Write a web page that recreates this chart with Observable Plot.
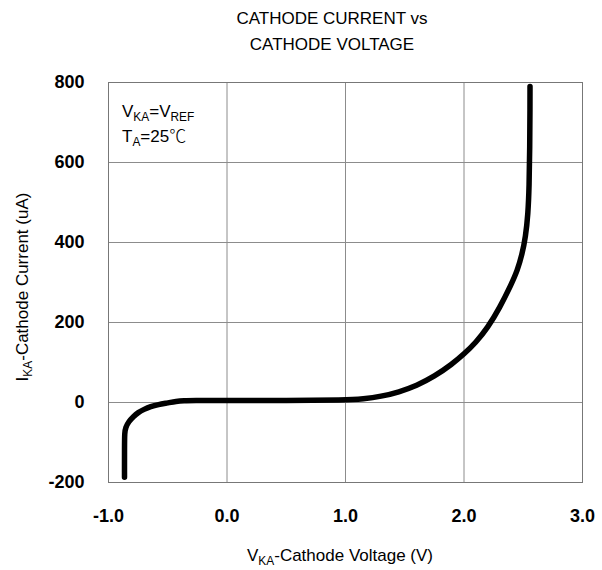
<!DOCTYPE html>
<html>
<head>
<meta charset="utf-8">
<script src="https://cdn.jsdelivr.net/npm/d3@7"></script>
<script src="https://cdn.jsdelivr.net/npm/@observablehq/plot@0.6"></script>
<style>
  html, body { margin: 0; padding: 0; background: #fff; }
  #chart svg { display: block; }
</style>
</head>
<body>
<div id="chart"></div>
<script>
// Cathode voltage (V) and cathode current (uA)
const voltage = [-0.865, -0.865, -0.864, -0.855, -0.83, -0.79, -0.75, -0.70, -0.645, -0.58, -0.5, -0.43, -0.36, -0.3, 0.0, 0.5, 1.0, 1.15, 1.3, 1.45, 1.6, 1.75, 1.9, 2.0, 2.1, 2.2, 2.3, 2.4, 2.45, 2.49, 2.52, 2.54, 2.55, 2.555, 2.557, 2.557];
const current = [-187, -110, -75, -62, -48, -35, -25, -17, -10, -5, -1, 3, 4.5, 5, 5, 5, 6, 9, 15, 26, 42, 65, 96, 121, 150, 187, 236, 296, 330, 370, 415, 470, 540, 640, 740, 790];
const xTicks = [-1, 0, 1, 2, 3];
const yTicks = [-200, 0, 200, 400, 600, 800];

const data = voltage.map((v, i) => ({v, i: current[i]}));

const font = "'Liberation Sans', Arial, sans-serif";

const chart = Plot.plot({
  width: 602,
  height: 570,
  marginLeft: 108,
  marginRight: 20,
  marginTop: 82,
  marginBottom: 88,
  style: {fontFamily: font, background: "#fff", color: "#000"},
  x: {domain: [-1, 3]},
  y: {domain: [-200, 800]},
  marks: [
    Plot.gridX(xTicks, {stroke: "#8c8c8c", strokeOpacity: 1}),
    Plot.gridY(yTicks, {stroke: "#8c8c8c", strokeOpacity: 1}),
    Plot.frame({stroke: "#777"}),
    Plot.axisX({ticks: xTicks, tickFormat: d => d3.format(".1f")(d).replace("−", "-"), tickSize: 0, tickPadding: 27, fontSize: 18, fontWeight: "bold", label: null}),
    Plot.axisY({ticks: yTicks, tickFormat: d => d3.format("d")(d).replace("−", "-"), tickSize: 0, tickPadding: 24, fontSize: 18, fontWeight: "bold", label: null}),
    Plot.line(data, {x: "v", y: "i", stroke: "#000", strokeWidth: 5.5, curve: "basis"})
  ]
});

document.getElementById("chart").appendChild(chart);

// Titles and annotation with subscripts
const svg = d3.select(chart);
function rich(x, y, parts, opts = {}) {
  const size = opts.size || 17;
  const t = svg.append("text")
    .attr("x", x).attr("y", y)
    .attr("font-family", font)
    .attr("font-size", size)
    .attr("fill", "#000")
    .attr("text-anchor", opts.anchor || "middle");
  if (opts.rotate) t.attr("transform", `rotate(-90 ${x} ${y})`);
  let shifted = false;
  parts.forEach(p => {
    if (typeof p === "string") {
      t.append("tspan").attr("dy", shifted ? -0.22 * size : 0).text(p);
      shifted = false;
    } else if (p.sub) {
      t.append("tspan").attr("font-size", size * 0.7).attr("dy", 0.22 * size).text(p.sub);
      shifted = true;
    } else if (p.cjk) {
      t.append("tspan").attr("font-family", "'Noto Sans CJK SC'").attr("font-weight", 300).attr("dy", shifted ? -0.22 * size : 0).text(p.cjk);
      shifted = false;
    }
  });
  return t;
}

rich(332, 24, ["CATHODE CURRENT vs"], {size: 17});
rich(332, 50, ["CATHODE VOLTAGE"], {size: 17});
rich(340, 561, ["V", {sub: "KA"}, "-Cathode Voltage (V)"], {size: 17});
rich(28, 287, ["I", {sub: "KA"}, "-Cathode Current (uA)"], {size: 17, rotate: true});
rich(122, 117, ["V", {sub: "KA"}, "=V", {sub: "REF"}], {size: 17, anchor: "start"});
rich(122, 142, ["T", {sub: "A"}, "=25", {cjk: "℃"}], {size: 17, anchor: "start"});
</script>
</body>
</html>
